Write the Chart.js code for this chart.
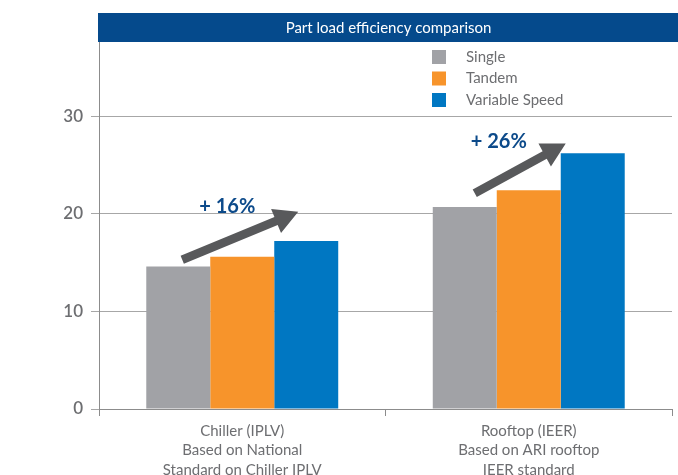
<!DOCTYPE html>
<html lang="en">
<head>
    <meta charset="UTF-8" />
    <title>Part load efficiency comparison</title>
    <script src="https://cdn.jsdelivr.net/npm/chart.js"></script>
    <style>
        html, body { margin: 0; padding: 0; background: #fff; }
        #wrap { width: 678px; height: 475px; }
    </style>
</head>
<body>
    <div id="wrap"><canvas id="effChart" width="678" height="475"></canvas></div>

    <script>
        const chartTitle = "Part load efficiency comparison";
        const categories = [
            ["Chiller (IPLV)", "Based on National", "Standard on Chiller IPLV"],
            ["Rooftop (IEER)", "Based on ARI rooftop", "IEER standard"]
        ];
        const seriesNames = ["Single", "Tandem", "Variable Speed"];
        const singleValues = [14.6, 20.7];
        const tandemValues = [15.6, 22.4];
        const variableValues = [17.2, 26.2];
        const yTicks = [0, 10, 20, 30];
        const gainLabels = ["+ 16%", "+ 26%"];

        const colors = ["#a1a2a6", "#f7942b", "#0077c2"];
        const textGray = "#6d6e71";
        const font = "Lato";

        // title bar, legend and gain arrows
        const decorPlugin = {
            id: "decor",
            afterDraw(chart) {
                const ctx = chart.ctx;
                const area = chart.chartArea;
                const x = chart.scales.x, y = chart.scales.y;
                ctx.save();

                // title bar
                ctx.fillStyle = "#054a8c";
                ctx.fillRect(area.left - 1, 13, chart.width - area.left + 1, area.top - 13);
                ctx.fillStyle = "#ffffff";
                ctx.font = "15px " + font;
                ctx.textAlign = "center";
                ctx.textBaseline = "middle";
                ctx.fillText(chartTitle, (area.left + chart.width) / 2, (13 + area.top) / 2 + 1);

                // legend
                ctx.textAlign = "left";
                ctx.font = "15px " + font;
                chart.data.datasets.forEach((ds, i) => {
                    const cy = 57 + i * 21.5;
                    ctx.fillStyle = ds.backgroundColor;
                    ctx.fillRect(432, cy - 7, 14, 14);
                    ctx.fillStyle = textGray;
                    ctx.fillText(ds.label, 466, cy);
                });

                // arrows (x offsets from category centre, y in data units)
                const arrows = [
                    { x0: -60, v0: 15.3, x1: 56, v1: 20.2, tx: -15, tv: 20.7 },
                    { x0: -54, v0: 22.1, x1: 37, v1: 27.2, tx: -30, tv: 27.4 }
                ];
                arrows.forEach((a, i) => {
                    const c = x.getPixelForValue(i);
                    const x0 = c + a.x0, y0 = y.getPixelForValue(a.v0);
                    const x1 = c + a.x1, y1 = y.getPixelForValue(a.v1);
                    const ang = Math.atan2(y1 - y0, x1 - x0);
                    const headLen = 24, headW = 13, shaft = 4.3;
                    const bx = x1 - headLen * Math.cos(ang), by = y1 - headLen * Math.sin(ang);
                    const nx = -Math.sin(ang), ny = Math.cos(ang);
                    ctx.fillStyle = "#58595b";
                    ctx.beginPath();
                    ctx.moveTo(x0 + nx * shaft, y0 + ny * shaft);
                    ctx.lineTo(bx + nx * shaft, by + ny * shaft);
                    ctx.lineTo(bx + nx * headW, by + ny * headW);
                    ctx.lineTo(x1, y1);
                    ctx.lineTo(bx - nx * headW, by - ny * headW);
                    ctx.lineTo(bx - nx * shaft, by - ny * shaft);
                    ctx.lineTo(x0 - nx * shaft, y0 - ny * shaft);
                    ctx.closePath();
                    ctx.fill();

                    ctx.fillStyle = "#0c4a8a";
                    ctx.font = "bold 20px " + font;
                    ctx.textAlign = "center";
                    ctx.fillText(gainLabels[i], c + a.tx, y.getPixelForValue(a.tv));
                });

                ctx.restore();
            }
        };

        new Chart(document.getElementById("effChart"), {
            type: "bar",
            data: {
                labels: categories,
                datasets: [
                    { label: seriesNames[0], data: singleValues, backgroundColor: colors[0] },
                    { label: seriesNames[1], data: tandemValues, backgroundColor: colors[1] },
                    { label: seriesNames[2], data: variableValues, backgroundColor: colors[2] }
                ]
            },
            options: {
                responsive: false,
                animation: false,
                categoryPercentage: 0.67,
                barPercentage: 1,
                layout: { padding: { top: 42, right: 6, left: 0, bottom: 0 } },
                plugins: {
                    legend: { display: false },
                    title: { display: false },
                    tooltip: { enabled: false }
                },
                scales: {
                    x: {
                        grid: {
                            drawOnChartArea: false,
                            drawTicks: true,
                            tickLength: 7,
                            color: ctx => ctx.index === categories.length ? "rgba(0,0,0,0)" : "#8c8c8c"
                        },
                        border: { color: "#8c8c8c" },
                        ticks: {
                            color: textGray,
                            font: { family: font, size: 15, lineHeight: 1.3 },
                            padding: 5,
                            maxRotation: 0,
                            autoSkip: false
                        },
                        afterFit(scale) { scale.height = 66; }
                    },
                    y: {
                        min: 0,
                        max: 37.6,
                        afterBuildTicks(scale) { scale.ticks = yTicks.map(v => ({ value: v })); },
                        grid: { color: "#a7a7a7", tickLength: 8 },
                        border: { color: "#8c8c8c" },
                        ticks: {
                            color: textGray,
                            font: { family: font, size: 17, weight: "600" },
                            padding: 8
                        },
                        afterFit(scale) { scale.width = 99; }
                    }
                }
            },
            plugins: [decorPlugin]
        });
    </script>
</body>
</html>
